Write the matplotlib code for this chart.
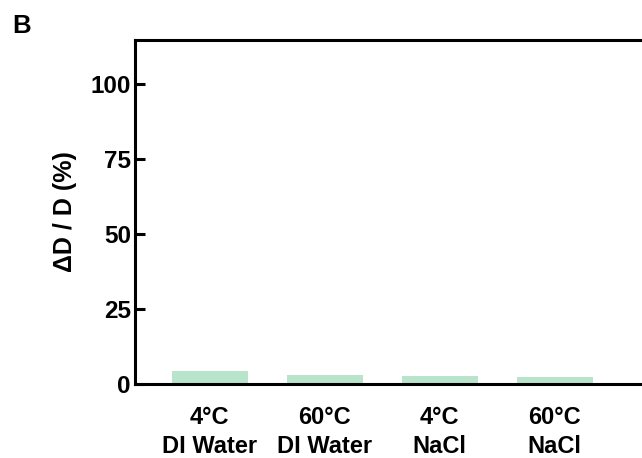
import matplotlib
matplotlib.use("Agg")
import matplotlib.pyplot as plt

categories = ["4°C\nDI Water", "60°C\nDI Water", "4°C\nNaCl", "60°C\nNaCl"]
values = [4.3, 3.1, 2.6, 2.4]
yticks = [0, 25, 50, 75, 100]

plt.rcParams['font.family'] = ['Liberation Sans', 'DejaVu Sans']
plt.rcParams['font.weight'] = 'bold'

fig = plt.figure(figsize=(6.42, 4.58), dpi=100)
ax = fig.add_axes([135/642, 74/458, 520/642, 344/458])
x = list(range(len(categories)))
ax.bar(x, values, width=0.66, color='#b9e4cc', zorder=1)
ax.set_xlim(-0.65, -0.65 + 520/115)
ax.set_ylim(0, 114.7)
ax.set_yticks(yticks)
ax.set_yticklabels([str(t) for t in yticks], fontsize=17.5, fontweight='bold')
ax.set_xticks(x)
ax.set_xticklabels(categories, fontsize=17, fontweight='bold', linespacing=1.3)
ax.tick_params(axis='x', length=0, pad=16)
ax.tick_params(axis='y', direction='in', length=7.5, width=2.2, pad=3)
for s in ['left', 'bottom', 'top', 'right']:
    ax.spines[s].set_linewidth(2.2)
ax.set_ylabel("ΔD / D (%)", fontsize=18, fontweight='bold', labelpad=10)
fig.text(12/642, 1 - 26/458, "B", fontsize=18.5, fontweight='bold', ha='left', va='center')
fig.savefig("out.png", dpi=100)
